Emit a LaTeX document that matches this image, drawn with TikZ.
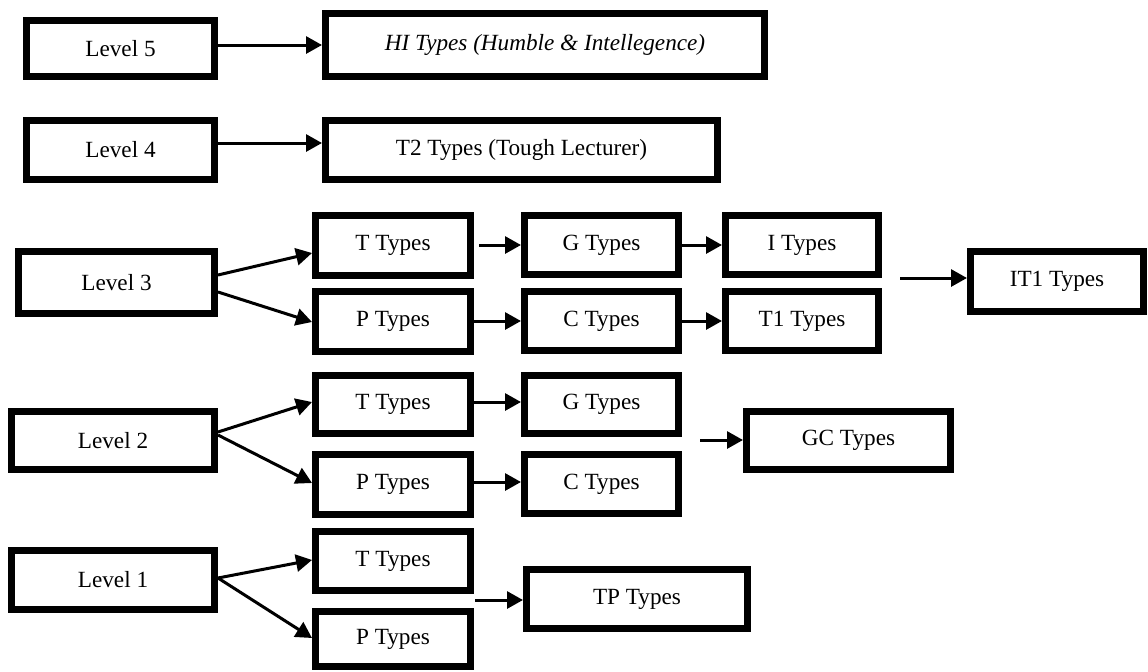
\documentclass[tikz,border=0pt]{standalone}
\usepackage{fontspec}
\setmainfont{Liberation Serif}
\usetikzlibrary{arrows.meta,calc}
\begin{document}
\begin{tikzpicture}[x=0.5pt,y=-0.5pt,
  bx/.style 2 args={draw, line width=3.6pt, inner sep=0pt,
    font=\fontsize{11.6}{13}\selectfont,
    minimum width={(#1-7.2)*0.5pt}, minimum height={(#2-7.2)*0.5pt}},
  arr/.style={line width=1.5pt, -{Triangle[length=8pt,width=8.5pt]}}]
\useasboundingbox (0,0) rectangle (1148,671);
% level 5 / 4
\node[bx={195}{63}] (L5) at (120.5,48.5) {Level 5};
\node[bx={446}{70}, font=\fontsize{11.6}{13}\selectfont\itshape] (HI) at (545,45) {HI Types (Humble \& Intellegence)};
\node[bx={195}{66}] (L4) at (120.5,150) {Level 4};
\node[bx={399}{66}] (T2) at (521.5,150) {T2 Types (Tough Lecturer)};
% level 3
\node[bx={203}{69}] (L3) at (116.5,282.5) {Level 3};
\node[bx={162}{67}] (T3) at (393,245.5) {T Types};
\node[bx={162}{67}] (P3) at (393,321.5) {P Types};
\node[bx={161}{66}] (G3) at (601.5,245) {G Types};
\node[bx={161}{66}] (C3) at (601.5,321) {C Types};
\node[bx={160}{66}] (I3) at (802,245) {I Types};
\node[bx={160}{66}] (T13) at (802,321) {T1 Types};
\node[bx={180}{67}] (IT1) at (1057,281.5) {IT1 Types};
% level 2
\node[bx={210}{65}] (L2) at (113,440.5) {Level 2};
\node[bx={162}{65}] (T2b) at (393,404.5) {T Types};
\node[bx={162}{67}] (P2) at (393,484.5) {P Types};
\node[bx={161}{65}] (G2) at (601.5,404.5) {G Types};
\node[bx={161}{66}] (C2) at (601.5,484) {C Types};
\node[bx={211}{65}] (GC) at (848.5,440.5) {GC Types};
% level 1
\node[bx={210}{66}] (L1) at (113,580) {Level 1};
\node[bx={162}{66}] (T1b) at (393,561) {T Types};
\node[bx={162}{62}] (P1) at (393,639) {P Types};
\node[bx={228}{66}] (TP) at (637,599) {TP Types};
% connectors
\draw[arr] (HI.west -| L5.east) -- (HI.west);
\draw[arr] (L4.east |- 0,143) -- (T2.west |- 0,143);
\draw[arr] (L3.east |- 0,275) -- (T3.west |- 0,253);
\draw[arr] (L3.east |- 0,292) -- (P3.west |- 0,322);
\draw[arr] ($(T3.east |- G3.west)+(5,0)$) -- (G3.west);
\draw[arr] (G3.east) -- (I3.west);
\draw[arr] (P3.east |- C3.west) -- (C3.west);
\draw[arr] (C3.east) -- (T13.west);
\coordinate (s1) at (900,278);
\draw[arr] (s1) -- (s1 -| IT1.west);
\draw[arr] (L2.east |- 0,432) -- (T2b.west |- 0,402);
\draw[arr] (L2.east |- 0,435) -- (P2.west |- 0,483);
\draw[arr] (T2b.east |- 0,402) -- (G2.west |- 0,402);
\draw[arr] (P2.east |- 0,482) -- (C2.west |- 0,482);
\coordinate (s2) at (700,440);
\draw[arr] (s2) -- (s2 -| GC.west);
\draw[arr] (L1.east |- 0,578) -- (T1b.west |- 0,560);
\draw[arr] (L1.east |- 0,578) -- (P1.west |- 0,638);
\coordinate (s3) at (475,600);
\draw[arr] (s3) -- (s3 -| TP.west);
\end{tikzpicture}
\end{document}
